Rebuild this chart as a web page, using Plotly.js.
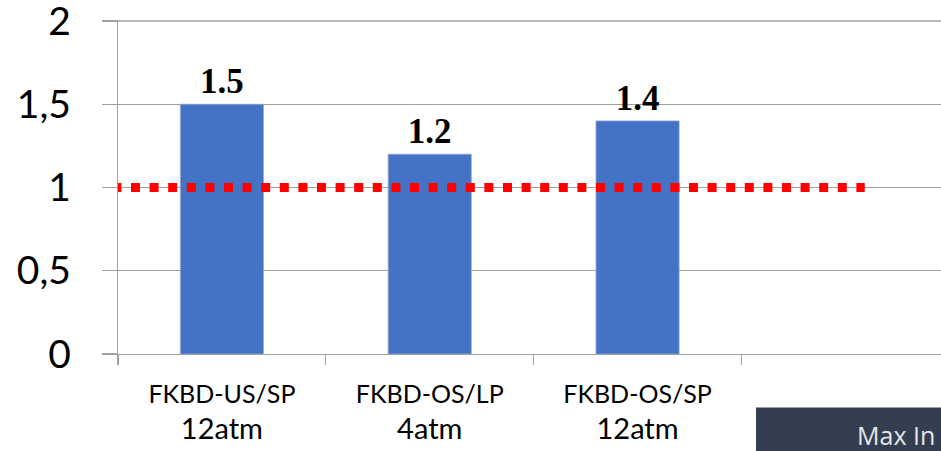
<!DOCTYPE html>
<html>
<head>
<meta charset="utf-8">
<script src="https://cdn.plot.ly/plotly-3.0.1.min.js"></script>
<style>
  html, body { margin: 0; padding: 0; background: #ffffff; }
  #chart { width: 941px; height: 451px; }
</style>
</head>
<body>
<div id="chart"></div>
<script>
// Configurations and their measured ratios
const configs = ['FKBD-US/SP', 'FKBD-OS/LP', 'FKBD-OS/SP'];
const pressures = ['12atm', '4atm', '12atm'];
const ratios = [1.5, 1.2, 1.4];
const threshold = 1;
const yTicks = [0, 0.5, 1, 1.5, 2];
const yRange = [0, 2.006];
const boxText = 'Max In';

const gridGray = '#a0a0a0';

// Two-line category labels: configuration above, pressure below
const categoryLabels = configs.map((c, i) =>
  '<span style="font-size:25px">' + c + '</span><br><span style="font-size:29px">' + pressures[i] + '</span>'
);

const bars = {
  type: 'bar',
  x: categoryLabels,
  y: ratios,
  width: 0.4,
  marker: { color: '#4472C4', line: { color: '#8eaadb', width: 0.8 } },
  text: ratios.map(v => v.toFixed(1)),
  textposition: 'outside',
  textfont: { family: 'Liberation Serif', size: 35, color: '#000000', weight: 'bold' },
  cliponaxis: false,
  hoverinfo: 'skip'
};

// the top grid line sits on the edge of the plot area, so it is drawn
// as a frame line (with its tick stub) at the highest tick value
const topTick = yTicks[yTicks.length - 1];
const topGridPaperY = (topTick - yRange[0]) / (yRange[1] - yRange[0]);

const layout = {
  width: 941,
  height: 451,
  margin: { l: 118, r: 0, t: 20, b: 97 },
  paper_bgcolor: '#ffffff',
  plot_bgcolor: '#ffffff',
  separators: ', ',
  showlegend: false,
  xaxis: {
    type: 'category',
    range: [-0.5, 3.46],
    showline: true,
    linecolor: gridGray,
    linewidth: 1.3,
    ticks: 'outside',
    tickson: 'boundaries',
    ticklen: 10,
    tickcolor: gridGray,
    tickwidth: 1.3,
    showgrid: false,
    ticklabelstandoff: 14,
    tickfont: { family: 'Lato', size: 28, color: '#000000' }
  },
  yaxis: {
    range: yRange,
    tickvals: yTicks,
    showline: true,
    linecolor: gridGray,
    linewidth: 1.3,
    ticks: 'outside',
    ticklen: 15,
    tickcolor: gridGray,
    tickwidth: 1.3,
    showgrid: true,
    gridcolor: gridGray,
    gridwidth: 1.3,
    zeroline: false,
    ticklabeloverflow: 'allow',
    ticklabelstandoff: 23,
    tickfont: { family: 'Lato', size: 39, color: '#000000' }
  },
  shapes: [
    {
      type: 'line',
      xref: 'paper', yref: 'paper',
      x0: -15 / 823, x1: 1,
      y0: topGridPaperY, y1: topGridPaperY,
      layer: 'below',
      line: { color: gridGray, width: 1.3 }
    },
    // dotted reference line at the threshold ratio
    {
      type: 'line',
      xref: 'x', yref: 'y',
      x0: -0.527, x1: 3.093,
      y0: threshold, y1: threshold,
      layer: 'above',
      line: { color: '#ff0000', width: 9, dash: '9px,9.6px' }
    },
    // dark caption box in the lower right corner
    {
      type: 'rect',
      xref: 'paper', yref: 'paper',
      x0: 0.7752, x1: 1.0,
      y0: -0.160, y1: -0.30,
      fillcolor: '#333f50',
      line: { width: 0 },
      layer: 'above'
    }
  ],
  annotations: [
    {
      xref: 'paper', yref: 'paper',
      x: 0.895, y: -0.185,
      xanchor: 'left', yanchor: 'top',
      text: boxText,
      showarrow: false,
      font: { family: 'Open Sans', size: 25, color: '#e6e6e6' }
    }
  ]
};

Plotly.newPlot('chart', [bars], layout, { displayModeBar: false, staticPlot: true });
</script>
</body>
</html>
